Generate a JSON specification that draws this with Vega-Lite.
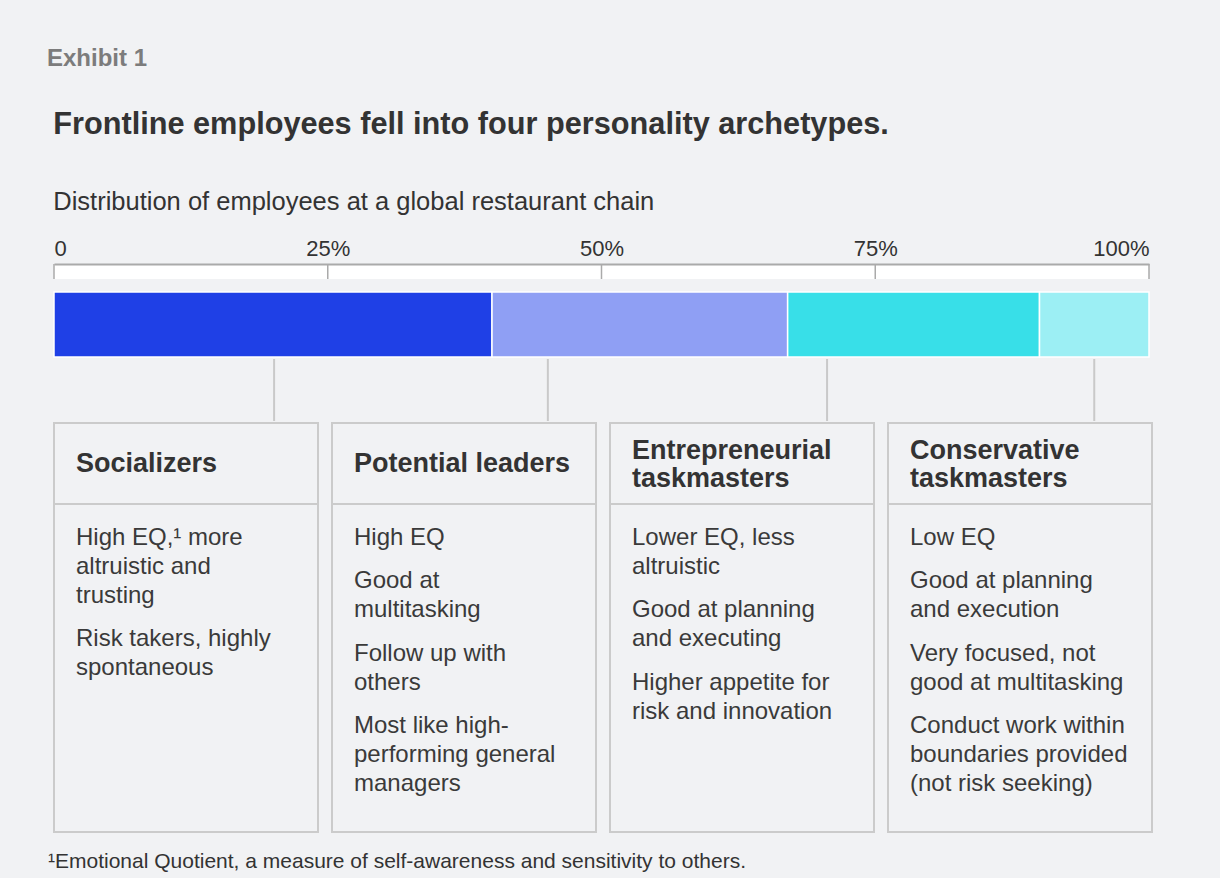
{
  "$schema": "https://vega.github.io/schema/vega-lite/v6.json",
  "background": "#f1f2f4",
  "padding": {"left": 47, "top": 46, "right": 68, "bottom": 6},
  "config": {
    "font": "Liberation Sans",
    "view": {"stroke": "#cbcbcb", "strokeWidth": 2},
    "text": {"font": "Liberation Sans"}
  },
  "title": {
    "text": "Exhibit 1",
    "anchor": "start",
    "dx": -1,
    "fontSize": 24,
    "fontWeight": "bold",
    "color": "#7c7c7c",
    "offset": 38
  },
  "datasets": {
    "segments": [
      {"archetype": "Socializers", "order": 1, "share": 40, "pointer": 20.1},
      {"archetype": "Potential leaders", "order": 2, "share": 27, "pointer": 45.1},
      {"archetype": "Entrepreneurial taskmasters", "order": 3, "share": 23, "pointer": 70.6},
      {"archetype": "Conservative taskmasters", "order": 4, "share": 10, "pointer": 95}
    ],
    "ticks": [{"pct": 0}, {"pct": 25}, {"pct": 50}, {"pct": 75}, {"pct": 100}],
    "cards": [
      {"archetype": "Socializers", "role": "heading", "text": "Socializers"},
      {"archetype": "Potential leaders", "role": "heading", "text": "Potential leaders"},
      {"archetype": "Entrepreneurial taskmasters", "role": "heading", "text": "Entrepreneurial\ntaskmasters"},
      {"archetype": "Conservative taskmasters", "role": "heading", "text": "Conservative\ntaskmasters"},
      {"archetype": "Socializers", "role": "trait", "line": 0, "text": "High EQ,¹ more\naltruistic and\ntrusting"},
      {"archetype": "Socializers", "role": "trait", "line": 3.5, "text": "Risk takers, highly\nspontaneous"},
      {"archetype": "Potential leaders", "role": "trait", "line": 0, "text": "High EQ"},
      {"archetype": "Potential leaders", "role": "trait", "line": 1.5, "text": "Good at\nmultitasking"},
      {"archetype": "Potential leaders", "role": "trait", "line": 4, "text": "Follow up with\nothers"},
      {"archetype": "Potential leaders", "role": "trait", "line": 6.5, "text": "Most like high-\nperforming general\nmanagers"},
      {"archetype": "Entrepreneurial taskmasters", "role": "trait", "line": 0, "text": "Lower EQ, less\naltruistic"},
      {"archetype": "Entrepreneurial taskmasters", "role": "trait", "line": 2.5, "text": "Good at planning\nand executing"},
      {"archetype": "Entrepreneurial taskmasters", "role": "trait", "line": 5, "text": "Higher appetite for\nrisk and innovation"},
      {"archetype": "Conservative taskmasters", "role": "trait", "line": 0, "text": "Low EQ"},
      {"archetype": "Conservative taskmasters", "role": "trait", "line": 1.5, "text": "Good at planning\nand execution"},
      {"archetype": "Conservative taskmasters", "role": "trait", "line": 4, "text": "Very focused, not\ngood at multitasking"},
      {"archetype": "Conservative taskmasters", "role": "trait", "line": 6.5, "text": "Conduct work within\nboundaries provided\n(not risk seeking)"}
    ]
  },
  "spacing": 0,
  "vconcat": [
    {
      "title": {
        "text": "Frontline employees fell into four personality archetypes.",
        "subtitle": "Distribution of employees at a global restaurant chain",
        "anchor": "start",
        "fontSize": 30.7,
        "fontWeight": "bold",
        "color": "#333333",
        "subtitleFontSize": 25.5,
        "subtitleColor": "#333333",
        "subtitlePadding": 49,
        "offset": 21
      },
      "spacing": 11,
      "vconcat": [
        {
          "width": 1095,
          "height": 15,
          "view": {"stroke": null, "fill": "#ffffff"},
          "data": {"name": "ticks"},
          "mark": {"type": "rule", "color": "#aaaaaa", "strokeWidth": 1.5},
          "encoding": {
            "x": {
              "field": "pct",
              "type": "quantitative",
              "scale": {"domain": [0, 100], "nice": false},
              "axis": {
                "orient": "top",
                "values": [0, 25, 50, 75, 100],
                "labelExpr": "datum.value == 0 ? '0' : datum.value + '%'",
                "labelFlush": true,
                "labelFontSize": 22,
                "labelColor": "#333333",
                "labelPadding": 4,
                "ticks": false,
                "grid": false,
                "domainColor": "#aaaaaa",
                "domainWidth": 2,
                "title": null
              }
            }
          }
        },
        {
          "width": 1095,
          "height": 65,
          "view": {"stroke": null},
          "data": {"name": "segments"},
          "transform": [
            {"stack": "share", "groupby": [], "sort": [{"field": "order"}], "as": ["start", "end"]}
          ],
          "mark": {"type": "rect", "stroke": "#ffffff", "strokeWidth": 1.5},
          "encoding": {
            "x": {"field": "start", "type": "quantitative", "scale": {"domain": [0, 100], "nice": false}, "axis": null},
            "x2": {"field": "end"},
            "color": {
              "field": "archetype",
              "type": "nominal",
              "scale": {
                "domain": ["Socializers", "Potential leaders", "Entrepreneurial taskmasters", "Conservative taskmasters"],
                "range": ["#1f40e6", "#8f9ff4", "#38dfe8", "#9ceff4"]
              },
              "legend": null
            }
          }
        }
      ]
    },
    {
      "width": 1095,
      "height": 62,
      "view": {"stroke": null},
      "data": {"name": "segments"},
      "mark": {"type": "rule", "color": "#c9c9c9", "strokeWidth": 2},
      "encoding": {
        "x": {"field": "pointer", "type": "quantitative", "scale": {"domain": [0, 100], "nice": false}, "axis": null}
      }
    },
    {
      "title": {
        "text": "¹Emotional Quotient, a measure of self-awareness and sensitivity to others.",
        "orient": "bottom",
        "anchor": "start",
        "dx": -4,
        "fontSize": 21,
        "fontWeight": "normal",
        "color": "#333333",
        "offset": 18
      },
      "data": {"name": "cards"},
      "facet": {
        "column": {
          "field": "archetype",
          "type": "nominal",
          "sort": ["Socializers", "Potential leaders", "Entrepreneurial taskmasters", "Conservative taskmasters"],
          "header": null
        }
      },
      "spacing": {"column": 10},
      "spec": {
        "width": 264,
        "height": 409,
        "layer": [
          {
            "transform": [{"filter": "datum.role == 'heading'"}],
            "mark": {"type": "rule", "color": "#cbcbcb", "strokeWidth": 2},
            "encoding": {
              "y": {
                "datum": -0.672,
                "type": "quantitative",
                "scale": {"domain": [-3.466, 10.638], "reverse": true, "nice": false, "zero": false},
                "axis": null
              }
            }
          },
          {
            "transform": [{"filter": "datum.role == 'heading' && indexof(datum.text, '\\n') < 0"}],
            "mark": {
              "type": "text",
              "align": "left",
              "baseline": "middle",
              "dx": -110,
              "fontSize": 27,
              "fontWeight": "bold",
              "lineBreak": "\n",
              "lineHeight": 28,
              "color": "#333333"
            },
            "encoding": {
              "y": {"datum": -2.05, "type": "quantitative"},
              "text": {"field": "text", "type": "nominal"}
            }
          },
          {
            "transform": [{"filter": "datum.role == 'heading' && indexof(datum.text, '\\n') >= 0"}],
            "mark": {
              "type": "text",
              "align": "left",
              "baseline": "middle",
              "dx": -110,
              "dy": -13,
              "fontSize": 27,
              "fontWeight": "bold",
              "lineBreak": "\n",
              "lineHeight": 28,
              "color": "#333333"
            },
            "encoding": {
              "y": {"datum": -2.05, "type": "quantitative"},
              "text": {"field": "text", "type": "nominal"}
            }
          },
          {
            "transform": [{"filter": "datum.role == 'trait'"}],
            "mark": {
              "type": "text",
              "align": "left",
              "baseline": "line-top",
              "dx": -110,
              "fontSize": 24,
              "lineBreak": "\n",
              "lineHeight": 29,
              "color": "#3a3a3a"
            },
            "encoding": {
              "y": {"field": "line", "type": "quantitative"},
              "text": {"field": "text", "type": "nominal"}
            }
          }
        ]
      }
    }
  ]
}
